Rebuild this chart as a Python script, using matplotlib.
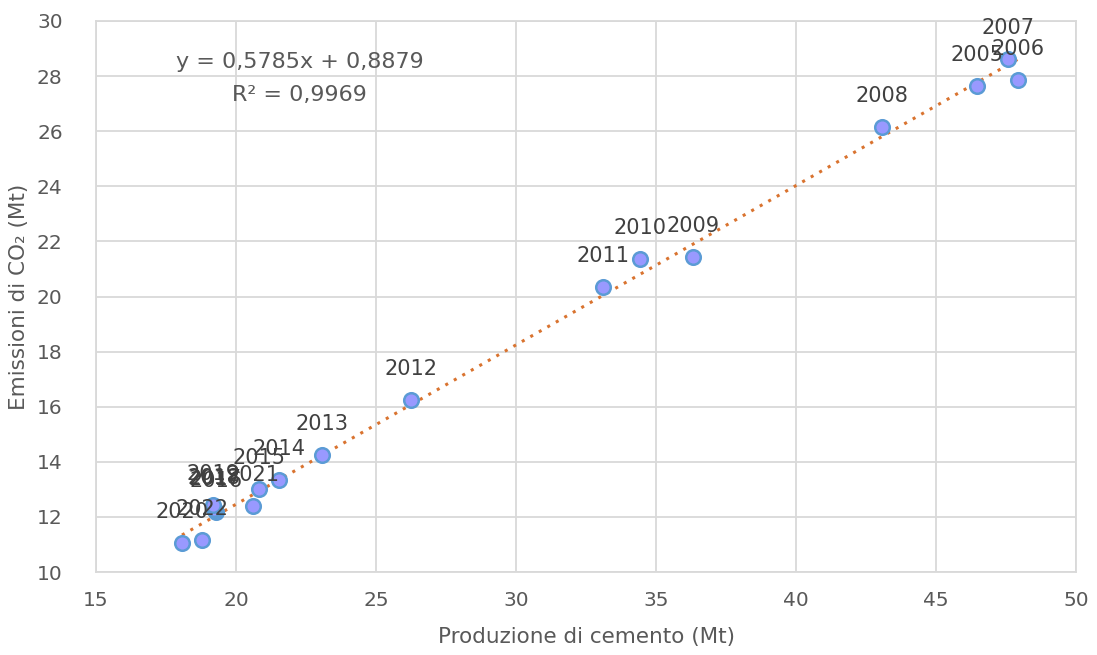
import matplotlib
matplotlib.use("Agg")
import matplotlib.pyplot as plt
import numpy as np

plt.rcParams['font.family'] = ['DejaVu Sans']

years = ['2005', '2006', '2007', '2008', '2009', '2010', '2011', '2012', '2013',
         '2014', '2015', '2016', '2017', '2018', '2019', '2020', '2021', '2022']
cemento = [46.46, 47.93, 47.57, 43.07, 36.32, 34.43, 33.11, 26.25, 23.07,
           21.54, 20.82, 19.29, 19.25, 19.22, 19.18, 18.07, 20.61, 18.79]
co2 = [27.64, 27.86, 28.62, 26.15, 21.43, 21.36, 20.34, 16.24, 14.25,
       13.34, 13.01, 12.18, 12.25, 12.30, 12.43, 11.05, 12.40, 11.16]

slope, intercept = 0.5785, 0.8879

grey = '#595959'
fig = plt.figure(figsize=(10.97, 6.55), dpi=100)
ax = fig.add_axes([96 / 1097, 1 - 572 / 655, 980 / 1097, 551 / 655])

xs = np.array([min(cemento), max(cemento)])
ax.plot(xs, slope * xs + intercept, linestyle=(0, (1, 2.2)), color='#D9732F',
        linewidth=2.2, zorder=2)
ax.scatter(cemento, co2, s=110, color='#9999FF', edgecolors='#5B9BD5',
           linewidths=1.8, zorder=3)

for yr, x, y in zip(years, cemento, co2):
    ax.annotate(yr, (x, y), xytext=(0, 15), textcoords='offset points',
                ha='center', va='bottom', fontsize=15, color='#404040', zorder=4)

ax.text(0.208, 0.926, 'y = 0,5785x + 0,8879', transform=ax.transAxes,
        ha='center', va='center', fontsize=16, color=grey)
ax.text(0.208, 0.866, 'R² = 0,9969', transform=ax.transAxes,
        ha='center', va='center', fontsize=16, color=grey)

ax.set_xlim(15, 50)
ax.set_ylim(10, 30)
ax.set_xticks(range(15, 51, 5))
ax.set_yticks(range(10, 31, 2))
ax.grid(True, color='#D9D9D9', linewidth=1.3)
ax.set_axisbelow(True)
for s in ax.spines.values():
    s.set_color('#D9D9D9')
    s.set_linewidth(1.3)
ax.tick_params(length=0, labelsize=14.5, labelcolor=grey)
ax.tick_params(axis='x', pad=14)
ax.tick_params(axis='y', pad=24)

ax.set_xlabel('Produzione di cemento (Mt)', fontsize=15.5, color=grey, labelpad=12)
ax.set_ylabel('Emissioni di CO₂ (Mt)', fontsize=15.5, color=grey, labelpad=6)

fig.savefig('out.png', dpi=100)
